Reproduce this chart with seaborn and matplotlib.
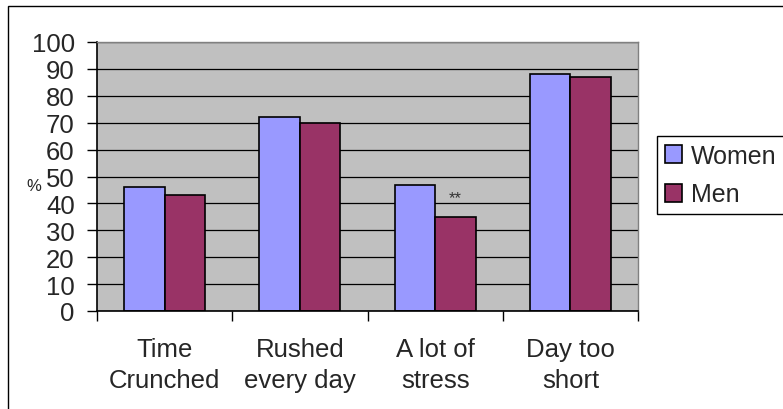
import matplotlib
matplotlib.use("Agg")
import matplotlib.pyplot as plt
from matplotlib.patches import Rectangle
import seaborn as sns
import pandas as pd

categories = ["Time\nCrunched", "Rushed\nevery day", "A lot of\nstress", "Day too\nshort"]
women = [46, 72, 47, 88]
men = [43, 70, 35, 87]
groups = ["Women", "Men"]
colors = {"Women": "#9999FF", "Men": "#993366"}

df = pd.DataFrame({
    "cat": categories * 2,
    "group": ["Women"] * len(categories) + ["Men"] * len(categories),
    "value": women + men,
})

sns.set_style("white")
plt.rcParams["font.family"] = ["Liberation Sans", "DejaVu Sans"]

fig = plt.figure(figsize=(7.83, 4.10), dpi=100)
ax = fig.add_axes([97 / 783, 98 / 410, 541 / 783, 269 / 410])
ax.set_facecolor("#C0C0C0")

sns.barplot(data=df, x="cat", y="value", hue="group", palette=colors,
            hue_order=groups, width=0.6, edgecolor="black", linewidth=1.2,
            saturation=1, ax=ax)

ax.set_ylim(0, 100)
ax.set_xlim(-0.5, len(categories) - 0.5)
ax.set_yticks(range(0, 101, 10))
ax.yaxis.grid(True, color="black", linewidth=0.9)
ax.set_axisbelow(True)
ax.set_xlabel("")
ax.set_ylabel("")

ax.tick_params(axis="y", labelsize=18.5, length=7, width=1, color="black", pad=9, left=True)
ax.tick_params(axis="x", which="major", labelsize=18.5, length=0, pad=19)
for t in ax.get_xticklabels():
    t.set_linespacing(1.35)
ax.set_xticks([i - 0.5 for i in range(len(categories) + 1)], minor=True)
ax.tick_params(axis="x", which="minor", length=7, width=1, color="black", bottom=True)

for side in ["left", "bottom"]:
    ax.spines[side].set_color("black")
    ax.spines[side].set_linewidth(1.2)
for side in ["top", "right"]:
    ax.spines[side].set_color("#808080")
    ax.spines[side].set_linewidth(1)

# significance marker over the Men bar in "A lot of stress"
ax.text(2 + 0.15, men[2] + 4.5, "**", ha="center", va="bottom", fontsize=12, color="#333333")

fig.text(34 / 783, 1 - 187 / 410, "%", ha="center", va="center", fontsize=12)

handles, labels = ax.get_legend_handles_labels()
ax.legend(handles, labels, loc="upper left", bbox_to_anchor=(657 / 783, 1 - 137 / 410),
          bbox_transform=fig.transFigure, borderaxespad=0, fontsize=18, frameon=True,
          fancybox=False, edgecolor="black", framealpha=1, handlelength=0.7,
          handleheight=0.7, handletextpad=0.35, borderpad=0.3, labelspacing=0.6)

fig.patches.append(Rectangle((8 / 783, -0.1), 2, 1 - 7 / 410 + 0.1, transform=fig.transFigure,
                             fill=False, edgecolor="black", linewidth=1))

fig.savefig("out.png", dpi=100)
